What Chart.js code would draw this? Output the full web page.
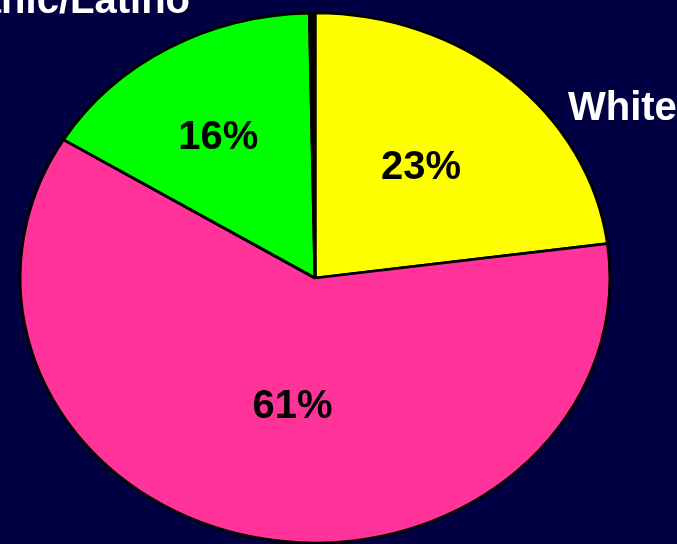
<!DOCTYPE html>
<html><head><meta charset="utf-8">
<script src="https://cdn.jsdelivr.net/npm/chart.js@4/dist/chart.umd.min.js"></script>
<style>
html,body{margin:0;padding:0;background:#000042;overflow:hidden}
#wrap{position:relative;width:677px;height:544px}
</style></head>
<body><div id="wrap"><canvas id="c" width="677" height="544"></canvas></div>
<script>
// ---- data ----
const categories = ['White', 'African American', 'Hispanic/Latino', 'Other'];
const shares = [23, 61, 16, 0.3];
const percentLabels = ['23%', '61%', '16%', ''];
const outsideLabels = ['White', '', 'Hispanic/Latino', ''];
const sliceColors = ['#FFFF00', '#FF3399', '#00FF00', '#000000'];

const squash = 265 / 295; // vertical flattening of the pie
const FONT = 'bold 40px "Liberation Sans", Arial, sans-serif';

const ellipsePlugin = {
  id: 'ellipse',
  beforeDatasetsDraw(chart) {
    const arc = chart.getDatasetMeta(0).data[0];
    const ctx = chart.ctx;
    ctx.save();
    ctx.translate(arc.x, arc.y);
    ctx.scale(1, squash);
    ctx.translate(-arc.x, -arc.y);
  },
  afterDatasetsDraw(chart) { chart.ctx.restore(); }
};

const labelPlugin = {
  id: 'sliceLabels',
  afterDraw(chart, args, opts) {
    const ctx = chart.ctx;
    const meta = chart.getDatasetMeta(0);
    ctx.save();
    ctx.font = FONT;
    ctx.textAlign = 'center';
    ctx.textBaseline = 'middle';
    ctx.fillStyle = '#000000';
    meta.data.forEach((arc, i) => {
      const text = percentLabels[i];
      if (!text) return;
      const p = arc.getProps(['x', 'y', 'startAngle', 'endAngle', 'outerRadius'], true);
      const mid = (p.startAngle + p.endAngle) / 2 + opts.angleShift[i] * Math.PI / 180;
      const r = p.outerRadius * opts.radial[i];
      ctx.fillText(text, p.x + Math.cos(mid) * r, p.y + Math.sin(mid) * r * squash + opts.baselineShift);
    });
    // outside category labels
    ctx.fillStyle = '#FFFFFF';
    ctx.textBaseline = 'alphabetic';
    const c = meta.data[0];
    outsideLabels.forEach((text, i) => {
      if (!text) return;
      const o = opts.outside[i];
      ctx.textAlign = o.align;
      ctx.fillText(text, c.x + o.dx, c.y + o.dy);
    });
    ctx.restore();
  }
};

new Chart(document.getElementById('c'), {
  type: 'pie',
  data: {
    labels: categories,
    datasets: [{
      data: shares,
      backgroundColor: sliceColors,
      borderColor: '#000000',
      borderWidth: 3,
      radius: 295,
      clip: false
    }]
  },
  options: {
    responsive: false,
    animation: false,
    rotation: 0,
    layout: { padding: { left: 0, right: 47, top: 12, bottom: 0 } },
    plugins: {
      legend: { display: false },
      tooltip: { enabled: false },
      sliceLabels: {
        radial: [0.556, 0.486, 0.63, 0],
        angleShift: [-1, -3, -1.6, 0],
        baselineShift: 2,
        outside: [
          { dx: 253, dy: -158, align: 'left' },
          null,
          { dx: -125, dy: -265, align: 'right' },
          null
        ]
      }
    }
  },
  plugins: [ellipsePlugin, labelPlugin]
});
</script>
</body></html>
